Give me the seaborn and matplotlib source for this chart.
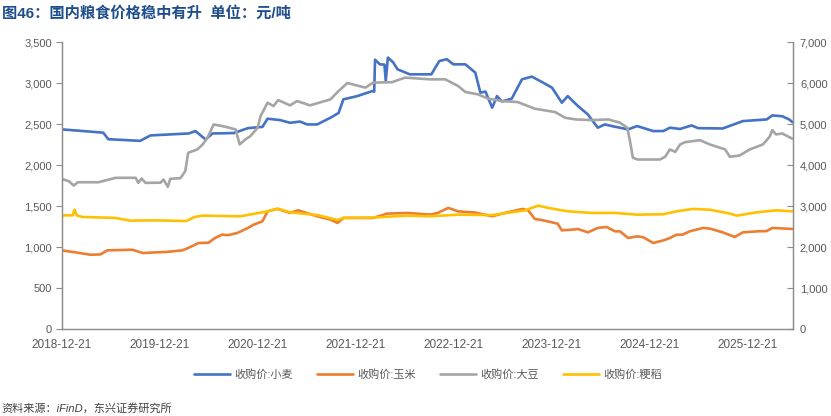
import pandas as pd
import matplotlib.pyplot as plt
import matplotlib.ticker as mticker
import seaborn as sns

# 数据（从图上读取的近似值，元/吨）
wheat_dates = ["2018-12-21", "2019-05-25", "2019-06-13", "2019-10-10", "2019-11-17", "2020-04-08",
               "2020-05-03", "2020-06-10", "2020-07-06", "2020-09-23", "2020-11-15", "2021-01-08",
               "2021-01-27", "2021-03-15", "2021-04-21", "2021-05-28", "2021-06-24", "2021-07-31",
               "2021-09-19", "2021-10-19", "2021-11-06", "2021-12-28", "2022-02-22", "2022-03-01",
               "2022-03-04", "2022-03-22", "2022-04-08", "2022-04-13", "2022-04-21", "2022-05-10",
               "2022-05-27", "2022-07-12", "2022-09-30", "2022-10-30", "2022-11-27", "2022-12-21",
               "2023-02-04", "2023-03-13", "2023-04-01", "2023-04-20", "2023-05-15", "2023-06-02",
               "2023-06-20", "2023-07-27", "2023-09-03", "2023-10-10", "2023-11-10", "2023-12-24",
               "2024-01-30", "2024-02-21", "2024-03-30", "2024-05-06", "2024-06-12", "2024-07-08",
               "2024-08-15", "2024-10-03", "2024-11-06", "2025-01-05", "2025-02-12", "2025-03-08",
               "2025-04-15", "2025-05-28", "2025-06-21", "2025-09-21", "2025-11-12", "2025-12-05",
               "2026-03-04", "2026-03-25", "2026-05-01", "2026-05-27", "2026-06-08"]
wheat_price = [2440, 2400, 2320, 2300, 2366, 2390,
               2419, 2317, 2390, 2395, 2455, 2470,
               2570, 2553, 2520, 2535, 2500, 2500,
               2582, 2640, 2806, 2846, 2907, 2900,
               3290, 3233, 3230, 3030, 3315, 3260,
               3172, 3111, 3111, 3274, 3295, 3233,
               3233, 3132, 2888, 2900, 2704, 2846,
               2780, 2814, 3050, 3083, 3029, 2949,
               2765, 2846, 2724, 2622, 2460, 2500,
               2472, 2440, 2480, 2419, 2420, 2460,
               2445, 2488, 2455, 2451, 2513, 2541,
               2561, 2610, 2600, 2561, 2528]

corn_dates = ["2018-12-21", "2019-02-11", "2019-04-07", "2019-05-15", "2019-06-09", "2019-09-10",
              "2019-10-21", "2019-12-06", "2020-01-12", "2020-03-15", "2020-04-06", "2020-05-15",
              "2020-06-21", "2020-07-15", "2020-08-10", "2020-09-02", "2020-10-06", "2020-11-15",
              "2020-12-06", "2021-01-08", "2021-01-27", "2021-03-05", "2021-04-21", "2021-05-21",
              "2021-07-31", "2021-09-19", "2021-10-15", "2021-11-06", "2022-02-25", "2022-04-18",
              "2022-07-02", "2022-09-26", "2022-10-24", "2022-12-02", "2023-01-08", "2023-03-13",
              "2023-05-15", "2023-07-01", "2023-09-06", "2023-09-27", "2023-10-21", "2023-11-21",
              "2023-12-24", "2024-01-14", "2024-01-30", "2024-03-07", "2024-03-30", "2024-05-06",
              "2024-06-12", "2024-07-15", "2024-08-15", "2024-09-03", "2024-10-03", "2024-11-06",
              "2024-11-28", "2025-01-05", "2025-02-12", "2025-03-08", "2025-04-02", "2025-04-24",
              "2025-05-21", "2025-07-09", "2025-08-04", "2025-09-21", "2025-11-05", "2025-12-05",
              "2026-01-27", "2026-03-04", "2026-03-25", "2026-06-08"]
corn_price = [1930, 1880, 1823, 1830, 1929, 1945,
              1864, 1880, 1889, 1929, 1987, 2109,
              2115, 2231, 2312, 2300, 2353, 2476,
              2556, 2637, 2881, 2940, 2842, 2906,
              2760, 2679, 2598, 2720, 2720, 2825,
              2842, 2800, 2842, 2965, 2881, 2850,
              2760, 2842, 2940, 2900, 2696, 2661,
              2613, 2580, 2417, 2434, 2450, 2368,
              2476, 2500, 2393, 2393, 2231, 2271,
              2250, 2109, 2173, 2231, 2312, 2312,
              2393, 2476, 2460, 2368, 2256, 2368,
              2393, 2400, 2476, 2451]

soy_dates = ["2018-12-21", "2019-01-17", "2019-02-04", "2019-02-19", "2019-05-07", "2019-07-10",
             "2019-09-23", "2019-10-03", "2019-10-15", "2019-10-30", "2019-12-25", "2020-01-05",
             "2020-01-21", "2020-01-30", "2020-03-08", "2020-03-26", "2020-04-06", "2020-05-10",
             "2020-05-30", "2020-06-17", "2020-07-10", "2020-08-23", "2020-09-30", "2020-10-15",
             "2020-11-05", "2020-11-24", "2020-12-21", "2021-01-01", "2021-01-27", "2021-02-18",
             "2021-03-08", "2021-04-21", "2021-05-17", "2021-07-05", "2021-09-19", "2021-10-19",
             "2021-11-21", "2022-01-27", "2022-02-25", "2022-05-06", "2022-06-24", "2022-09-26",
             "2022-11-21", "2023-01-08", "2023-02-04", "2023-03-23", "2023-04-30", "2023-06-21",
             "2023-08-18", "2023-10-21", "2024-01-05", "2024-02-11", "2024-03-20", "2024-05-21",
             "2024-07-21", "2024-09-03", "2024-09-30", "2024-10-09", "2024-10-21", "2024-11-08",
             "2025-01-30", "2025-02-18", "2025-03-08", "2025-03-28", "2025-04-15", "2025-05-04",
             "2025-06-28", "2025-08-04", "2025-09-30", "2025-10-18", "2025-11-23", "2025-12-31",
             "2026-02-18", "2026-03-15", "2026-03-25", "2026-04-08", "2026-05-01", "2026-06-08"]
soy_price = [3673, 3615, 3510, 3590, 3590, 3698,
             3698, 3575, 3680, 3575, 3580, 3656,
             3478, 3673, 3690, 3859, 4309, 4390,
             4512, 4675, 5000, 4944, 4878, 4512,
             4634, 4715, 4920, 5203, 5531, 5448,
             5594, 5465, 5570, 5465, 5612, 5815,
             6010, 5897, 6020, 6030, 6142, 6100,
             6100, 5937, 5790, 5734, 5629, 5570,
             5546, 5384, 5301, 5164, 5123, 5106,
             5123, 5042, 4920, 4634, 4187, 4145,
             4145, 4211, 4390, 4330, 4512, 4568,
             4617, 4512, 4390, 4211, 4243, 4390,
             4512, 4700, 4861, 4756, 4780, 4651]

rice_dates = ["2018-12-21", "2019-01-31", "2019-02-07", "2019-02-15", "2019-03-08", "2019-07-10",
              "2019-09-03", "2019-12-06", "2020-03-30", "2020-04-30", "2020-05-30", "2020-10-18",
              "2021-01-27", "2021-03-05", "2021-04-21", "2021-07-31", "2021-10-15", "2021-11-06",
              "2022-02-25", "2022-07-02", "2022-09-26", "2023-01-08", "2023-05-15", "2023-09-15",
              "2023-11-03", "2023-12-09", "2024-02-21", "2024-05-21", "2024-08-15", "2024-11-06",
              "2025-02-12", "2025-04-02", "2025-06-03", "2025-08-04", "2025-10-18", "2025-11-12",
              "2026-01-27", "2026-04-08", "2026-06-08"]
rice_price = [2784, 2784, 2923, 2784, 2744, 2720,
              2654, 2661, 2645, 2744, 2776, 2760,
              2881, 2947, 2857, 2790, 2670, 2720,
              2730, 2776, 2760, 2800, 2790, 2906,
              3021, 2965, 2881, 2842, 2842, 2800,
              2810, 2881, 2940, 2920, 2825, 2776,
              2857, 2906, 2881]

tick_dates = ["2018-12-21", "2019-12-21", "2020-12-21", "2021-12-21",
              "2022-12-21", "2023-12-21", "2024-12-21", "2025-12-21"]

sns.set_style("white")
plt.rcParams['font.family'] = ['Liberation Sans', 'Noto Sans CJK SC', 'DejaVu Sans']

fig = plt.figure(figsize=(8.31, 4.16), dpi=100)
ax = fig.add_axes([0.0742, 0.208, 0.880, 0.69])
ax2 = ax.twinx()

wheat = pd.DataFrame({'date': pd.to_datetime(wheat_dates), 'price': wheat_price})
corn = pd.DataFrame({'date': pd.to_datetime(corn_dates), 'price': corn_price})
soy = pd.DataFrame({'date': pd.to_datetime(soy_dates), 'price': soy_price})
rice = pd.DataFrame({'date': pd.to_datetime(rice_dates), 'price': rice_price})

lw = 1.9
sns.lineplot(data=wheat, x='date', y='price', ax=ax, color='#4472C4', lw=lw, label='收购价:小麦', legend=False)
sns.lineplot(data=corn, x='date', y='price', ax=ax2, color='#ED7D31', lw=lw, label='收购价:玉米', legend=False)
sns.lineplot(data=soy, x='date', y='price', ax=ax2, color='#A5A5A5', lw=lw, label='收购价:大豆', legend=False)
sns.lineplot(data=rice, x='date', y='price', ax=ax2, color='#FFC000', lw=lw, label='收购价:粳稻', legend=False)

ax.set_xlim(pd.Timestamp("2018-12-21"), pd.Timestamp("2026-06-10"))
ax.set_ylim(0, 3500)
ax2.set_ylim(0, 7000)
ax.set_yticks(range(0, 3501, 500))
ax2.set_yticks(range(0, 7001, 1000))
ax.yaxis.set_major_formatter(mticker.StrMethodFormatter('{x:,.0f}'))
ax2.yaxis.set_major_formatter(mticker.StrMethodFormatter('{x:,.0f}'))
ax.set_xticks(pd.to_datetime(tick_dates))
ax.set_xticklabels(tick_dates)
ax.set_xlabel("")
ax.set_ylabel("")
ax2.set_ylabel("")

axis_col = '#8C8C8C'
text_col = '#595959'
for a in (ax, ax2):
    a.spines['top'].set_visible(False)
    for side in ('left', 'right', 'bottom'):
        a.spines[side].set_color(axis_col)
        a.spines[side].set_linewidth(0.9)
ax.tick_params(axis='x', colors=axis_col, labelcolor=text_col, labelsize=8.5, length=4, width=0.8, direction='out', pad=3)
ax.tick_params(axis='y', colors=axis_col, labelcolor=text_col, labelsize=8, length=4, width=0.8, direction='out', pad=3)
ax2.tick_params(axis='y', colors=axis_col, labelcolor=text_col, labelsize=8, length=4, width=0.8, direction='in', pad=5)

h1, l1 = ax.get_legend_handles_labels()
h2, l2 = ax2.get_legend_handles_labels()
fig.legend(h1 + h2, l1 + l2, loc='center', bbox_to_anchor=(0.515, 0.1), ncol=4, frameon=False,
           fontsize=8, handlelength=3.2, columnspacing=2.2, handletextpad=0.4,
           labelcolor=text_col)

fig.text(0.002, 0.985, "图46：国内粮食价格稳中有升  单位：元/吨", fontsize=11, fontweight='bold',
         color='#1F4E8C', ha='left', va='top')
fig.text(0.002, 0.006, "资料来源：iFinD，东兴证券研究所", fontsize=8, style='italic',
         color='#404040', ha='left', va='bottom')

fig.savefig("out.png", dpi=100)
